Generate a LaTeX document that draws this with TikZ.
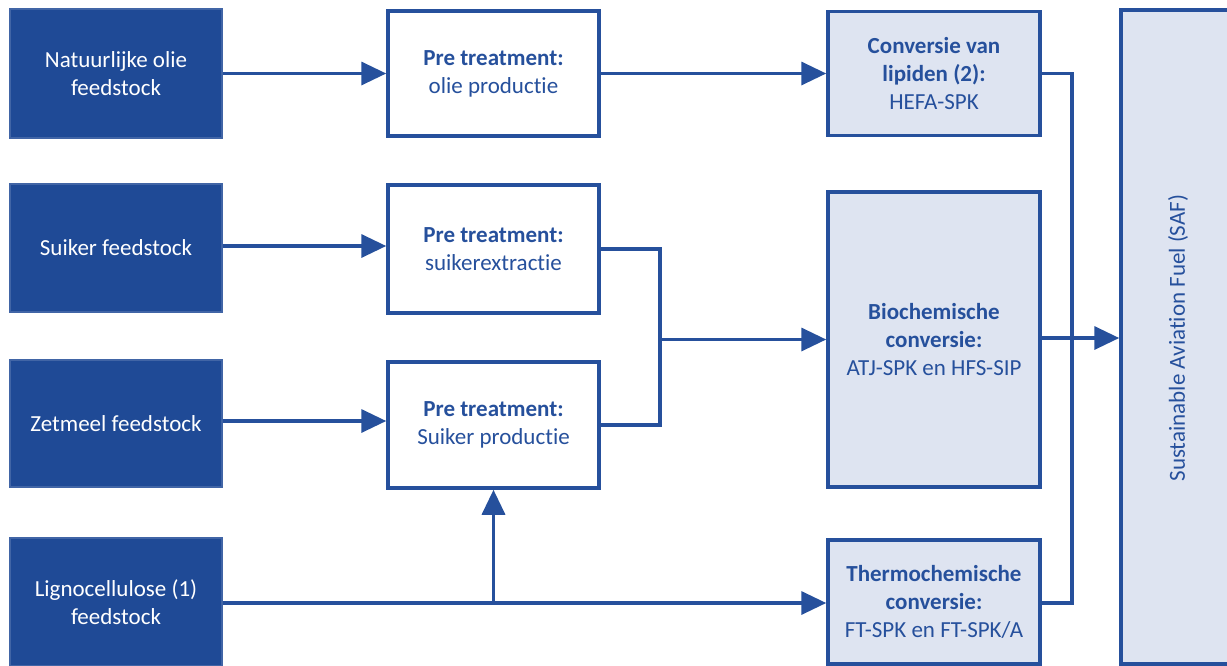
\documentclass[tikz,border=0pt]{standalone}
\usepackage{fontspec}
\setmainfont{Carlito}[Ligatures=NoCommon]
\usetikzlibrary{arrows.meta}
\definecolor{darkblue}{RGB}{31,74,150}
\definecolor{lineblue}{RGB}{38,80,156}
\definecolor{paleblue}{RGB}{222,228,241}
\begin{document}
\begin{tikzpicture}[x=1pt,y=-1pt,
  every node/.style={font=\fontsize{23}{28}\selectfont, align=center, inner sep=0pt},
  feed/.style={rectangle, draw=darkblue!85!white, line width=1.5pt, fill=darkblue, text=white, minimum width=212pt},
  prebox/.style={rectangle, draw=lineblue, line width=3.5pt, fill=white, text=lineblue, minimum width=211pt},
  convbox/.style={rectangle, draw=lineblue, line width=3.5pt, fill=paleblue, text=lineblue, minimum width=212pt},
  flow/.style={draw=lineblue, line width=3.5pt},
  arr/.style={flow, -{Triangle[length=25pt,width=23pt]}}
]
\useasboundingbox (0,0) rectangle (1227,665);
\fill[white] (0,0) rectangle (1227,665);

% feedstock column
\node[feed, minimum height=129pt] (f1) at (116,73.5) {Natuurlijke olie\\feedstock};
\node[feed, minimum height=128pt] (f2) at (116,248) {Suiker feedstock};
\node[feed, minimum height=127pt] (f3) at (116,423.5) {Zetmeel feedstock};
\node[feed, minimum height=128pt] (f4) at (116,602) {Lignocellulose (1)\\feedstock};

% pre treatment column
\node[prebox, minimum height=125pt] (p1) at (493.5,73.5) {\textbf{Pre treatment:}\\olie productie};
\node[prebox, minimum height=128pt] (p2) at (493.5,249) {\textbf{Pre treatment:}\\suikerextractie};
\node[prebox, minimum height=126pt] (p3) at (493.5,425) {\textbf{Pre treatment:}\\Suiker productie};

% conversion column
\node[convbox, minimum height=124pt] (c1) at (934,73.5) {\textbf{Conversie van}\\\textbf{lipiden (2):}\\HEFA-SPK};
\node[convbox, minimum height=295pt] (c2) at (934,339.5) {\textbf{Biochemische}\\\textbf{conversie:}\\ATJ-SPK en HFS-SIP};
\node[convbox, minimum height=124pt] (c3) at (934,602) {\textbf{Thermochemische}\\\textbf{conversie:}\\FT-SPK en FT-SPK/A};

% product
\node[convbox, minimum width=118pt, minimum height=654pt] (saf) at (1180,337) {};
\node[text=lineblue, rotate=90] (saflabel) at (1178,338) {Sustainable Aviation Fuel (SAF)};

% junction points
\coordinate (jtop) at (660,249);
\coordinate (jmid) at (660,339.5);
\coordinate (jbot) at (660,425);
\coordinate (split) at (493.5,603);
\coordinate (rtop) at (1072,73.5);
\coordinate (rbot) at (1072,603);

% connectors
\draw[arr] (f1.east) -- (p1.west);
\draw[arr] (p1.east) -- (c1.west);
\draw[arr] (f2.east |- 0,246) -- (p2.west |- 0,246);
\draw[arr] (f3.east |- 0,421) -- (p3.west |- 0,421);
\draw[flow] (p2.east) -- (jtop) -- (jbot) -- (p3.east);
\draw[arr] (jmid) -- (c2.west);
\draw[arr] (f4.east |- split) -- (c3.west |- split);
\draw[arr] (split) -- (p3.south);
\draw[flow] (c1.east) -- (rtop) -- (rbot) -- (c3.east |- rbot);
\draw[arr] (c2.east |- 0,338) -- (saf.west |- 0,338);
\end{tikzpicture}
\end{document}
